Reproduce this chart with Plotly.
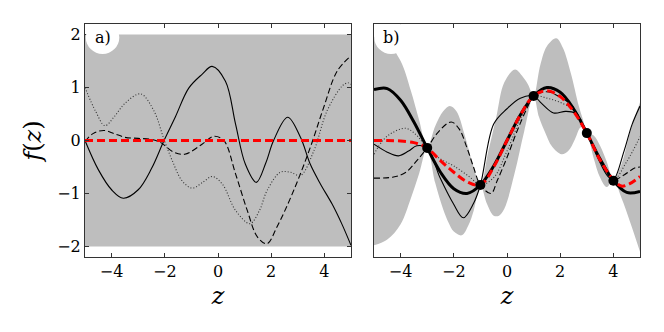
import plotly.graph_objects as go

# ---------------- data: panel a (prior) ----------------
band_a_z = [-5.0, 5.0]
band_a_upper = [2.0, 2.0]
band_a_lower = [-2.0, -2.0]
mean_a_z = [-5.0, 5.0]
mean_a_y = [0.0, 0.0]

sa_solid_z = [-5.0, -4.5, -4.0, -3.56, -3.0, -2.5, -2.03, -1.6, -1.1, -0.6, -0.22, 0.28, 0.66, 1.03, 1.44, 1.8, 2.09, 2.62, 3.1, 3.47, 3.85, 4.29, 4.65, 5.0]
sa_solid_y = [0.0, -0.55, -0.93, -1.09, -0.93, -0.53, 0.0, 0.45, 0.99, 1.25, 1.40, 1.12, 0.31, -0.45, -0.79, -0.42, 0.0, 0.44, 0.06, -0.45, -0.82, -1.2, -1.57, -1.98]

sa_dash_z = [-5.0, -4.7, -4.3, -3.9, -3.5, -3.0, -2.5, -2.15, -1.7, -1.25, -0.6, -0.16, 0.22, 0.66, 1.1, 1.48, 1.84, 2.22, 2.84, 3.47, 3.97, 4.48, 5.0]
sa_dash_y = [-0.02, 0.13, 0.19, 0.13, 0.06, 0.04, 0.02, -0.04, -0.21, -0.26, -0.07, 0.08, 0.0, -0.63, -1.32, -1.82, -1.95, -1.63, -0.95, -0.13, 0.62, 1.31, 1.6]

sa_dot_z = [-5.0, -4.6, -4.25, -3.9, -3.5, -2.91, -2.41, -2.03, -1.72, -1.35, -0.97, -0.55, -0.22, 0.16, 0.66, 1.2, 1.56, 1.84, 2.34, 2.72, 3.1, 3.6, 4.1, 4.67, 4.88, 5.0]
sa_dot_y = [1.0, 0.55, 0.28, 0.45, 0.7, 0.88, 0.56, 0.02, -0.38, -0.76, -0.9, -0.78, -0.68, -0.82, -1.32, -1.57, -1.32, -0.95, -0.6, -0.6, -0.66, -0.2, 0.56, 1.03, 1.09, 1.06]

# ---------------- data: panel b (posterior) ----------------
ub_z = [-5.0, -4.5, -4.0, -3.62, -3.3, -3.0, -2.7, -2.4, -2.15, -1.9, -1.6, -1.3, -1.0, -0.7, -0.4, -0.1, 0.3, 0.6, 0.8, 1.0, 1.25, 1.5, 1.85, 2.1, 2.4, 2.7, 2.85, 3.0, 3.25, 3.5, 3.75, 4.0, 4.3, 4.65, 5.0]
ub_y = [1.96, 1.85, 1.5, 0.95, 0.38, -0.14, 0.27, 0.55, 0.65, 0.55, 0.12, -0.42, -0.84, -0.2, 0.45, 1.1, 1.34, 1.2, 1.05, 0.84, 1.42, 1.78, 1.93, 1.75, 1.27, 0.65, 0.4, 0.14, 0.1, -0.1, -0.4, -0.74, -0.45, 0.2, 0.72]

lb_z = [-5.0, -4.5, -4.0, -3.62, -3.3, -3.0, -2.7, -2.4, -2.2, -2.0, -1.7, -1.45, -1.25, -1.0, -0.75, -0.5, -0.3, -0.1, 0.28, 0.65, 1.0, 1.2, 1.41, 1.7, 2.05, 2.3, 2.55, 2.78, 3.0, 3.25, 3.5, 3.75, 4.0, 4.3, 4.65, 5.0]
lb_y = [-1.98, -1.87, -1.58, -1.1, -0.62, -0.14, -0.8, -1.3, -1.55, -1.72, -1.79, -1.6, -1.32, -0.84, -1.2, -1.42, -1.42, -1.29, -0.63, 0.18, 0.84, 0.45, 0.18, -0.12, -0.26, -0.2, 0.02, 0.25, 0.14, -0.32, -0.7, -0.88, -0.74, -1.08, -1.57, -2.1]

mb_z = [-5.0, -4.5, -4.0, -3.5, -3.25, -3.0, -2.5, -2.0, -1.5, -1.0, -0.5, 0.0, 0.5, 1.0, 1.5, 2.0, 2.5, 3.0, 3.5, 4.0, 4.3, 4.6, 5.0]
mb_y = [0.0, 0.0, -0.01, -0.04, -0.08, -0.14, -0.38, -0.6, -0.78, -0.84, -0.5, 0.0, 0.48, 0.84, 0.94, 0.83, 0.55, 0.14, -0.37, -0.74, -0.86, -0.82, -0.68]

true_z = [-5.0, -4.5, -4.0, -3.5, -3.0, -2.5, -2.0, -1.5, -1.0, -0.5, 0.0, 0.5, 1.0, 1.5, 2.0, 2.5, 3.0, 3.5, 4.0, 4.5, 5.0]
true_y = [0.96, 0.98, 0.76, 0.35, -0.14, -0.60, -0.91, -1.0, -0.84, -0.48, 0.0, 0.48, 0.84, 1.0, 0.91, 0.60, 0.14, -0.35, -0.76, -0.98, -0.96]

sb_solid_z = [-5.0, -4.5, -4.08, -3.7, -3.39, -3.0, -2.52, -2.02, -1.64, -1.26, -1.0, -0.5, 0.0, 0.5, 1.0, 1.3, 1.75, 2.2, 2.55, 2.8, 3.0, 3.5, 3.8, 4.0, 4.4, 4.7, 5.0]
sb_solid_y = [-0.07, -0.22, -0.29, -0.2, -0.1, -0.14, -0.7, -1.19, -1.46, -1.19, -0.84, 0.31, 0.6, 0.8, 0.84, 0.7, 0.52, 0.55, 0.52, 0.35, 0.14, -0.42, -0.68, -0.74, -0.2, 0.3, 0.65]

sb_dash_z = [-5.0, -4.27, -3.8, -3.39, -3.0, -2.6, -2.1, -1.8, -1.51, -1.26, -1.0, -0.6, -0.37, 0.0, 0.38, 0.76, 1.0, 1.5, 2.0, 2.4, 2.7, 3.0, 3.5, 4.0, 4.4, 4.8, 5.0]
sb_dash_y = [-0.71, -0.69, -0.6, -0.38, -0.14, 0.15, 0.35, 0.22, -0.13, -0.5, -0.84, -1.0, -0.76, -0.32, 0.18, 0.62, 0.84, 0.92, 0.82, 0.68, 0.45, 0.14, -0.38, -0.74, -0.65, -0.52, -0.5]

sb_dot_z = [-5.0, -4.67, -4.3, -3.8, -3.4, -3.0, -2.5, -2.0, -1.4, -1.0, -0.5, 0.0, 0.5, 1.0, 1.5, 2.0, 2.5, 2.8, 3.0, 3.5, 4.0, 4.5, 5.0]
sb_dot_y = [-0.26, 0.0, 0.15, 0.23, 0.1, -0.14, -0.35, -0.48, -0.69, -0.84, -0.7, -0.2, 0.4, 0.84, 0.8, 0.72, 0.58, 0.38, 0.14, -0.38, -0.74, -0.4, 0.07]

obs_z = [-3.0, -1.0, 1.0, 3.0, 4.0]
obs_y = [-0.14, -0.84, 0.84, 0.14, -0.76]

x_ticks = [-4, -2, 0, 2, 4]
x_ticktext = ["\u22124", "\u22122", "0", "2", "4"]
y_ticks = [-2, -1, 0, 1, 2]
y_ticktext = ["\u22122", "\u22121", "0", "1", "2"]

# ---------------- styling ----------------
GRAY = "#bebebe"
FONT = "DejaVu Serif"
SP = dict(shape="spline", smoothing=1.0)
W, H = 664, 332
OFF = 8  # page offset of the plot div


def xd(a, b):
    return [(a - OFF) / W, (b - OFF) / W]


def yd(top, bottom):
    return [1 - (bottom - OFF) / H, 1 - (top - OFF) / H]


fig = go.Figure()

# panel a
fig.add_trace(go.Scatter(x=band_a_z, y=band_a_lower, mode="lines", line=dict(width=0, color=GRAY),
                         xaxis="x", yaxis="y", showlegend=False, hoverinfo="skip"))
fig.add_trace(go.Scatter(x=band_a_z, y=band_a_upper, mode="lines", line=dict(width=0, color=GRAY),
                         fill="tonexty", fillcolor=GRAY, xaxis="x", yaxis="y", showlegend=False, hoverinfo="skip"))
fig.add_trace(go.Scatter(x=sa_solid_z, y=sa_solid_y, mode="lines", line=dict(color="black", width=1.1, **SP),
                         xaxis="x", yaxis="y", showlegend=False))
fig.add_trace(go.Scatter(x=sa_dash_z, y=sa_dash_y, mode="lines", line=dict(color="black", width=1.1, dash="6px,3px", **SP),
                         xaxis="x", yaxis="y", showlegend=False))
fig.add_trace(go.Scatter(x=sa_dot_z, y=sa_dot_y, mode="lines", line=dict(color="#333333", width=1.1, dash="1px,2px", **SP),
                         xaxis="x", yaxis="y", showlegend=False))
fig.add_trace(go.Scatter(x=mean_a_z, y=mean_a_y, mode="lines", line=dict(color="red", width=3, dash="8px,4px"),
                         xaxis="x", yaxis="y", showlegend=False))

# panel b
fig.add_trace(go.Scatter(x=lb_z, y=lb_y, mode="lines", line=dict(width=0, color=GRAY, **SP),
                         xaxis="x2", yaxis="y2", showlegend=False, hoverinfo="skip"))
fig.add_trace(go.Scatter(x=ub_z, y=ub_y, mode="lines", line=dict(width=0, color=GRAY, **SP),
                         fill="tonexty", fillcolor=GRAY, xaxis="x2", yaxis="y2", showlegend=False, hoverinfo="skip"))
fig.add_trace(go.Scatter(x=sb_solid_z, y=sb_solid_y, mode="lines", line=dict(color="black", width=1.1, **SP),
                         xaxis="x2", yaxis="y2", showlegend=False))
fig.add_trace(go.Scatter(x=sb_dash_z, y=sb_dash_y, mode="lines", line=dict(color="black", width=1.1, dash="6px,3px", **SP),
                         xaxis="x2", yaxis="y2", showlegend=False))
fig.add_trace(go.Scatter(x=sb_dot_z, y=sb_dot_y, mode="lines", line=dict(color="#333333", width=1.1, dash="1px,2px", **SP),
                         xaxis="x2", yaxis="y2", showlegend=False))
fig.add_trace(go.Scatter(x=true_z, y=true_y, mode="lines", line=dict(color="black", width=3, **SP),
                         xaxis="x2", yaxis="y2", showlegend=False))
fig.add_trace(go.Scatter(x=mb_z, y=mb_y, mode="lines", line=dict(color="red", width=3, dash="8px,4px", **SP),
                         xaxis="x2", yaxis="y2", showlegend=False))
fig.add_trace(go.Scatter(x=obs_z, y=obs_y, mode="markers", marker=dict(color="black", size=10),
                         xaxis="x2", yaxis="y2", showlegend=False))

axis_common = dict(range=[-5, 5], showgrid=False, zeroline=False, showline=True, linecolor="#333333",
                   linewidth=1, ticks="inside", ticklen=4, tickcolor="#333333", mirror="ticks",
                   tickvals=x_ticks, ticktext=x_ticktext, automargin=False,
                   tickfont=dict(family=FONT, size=16, color="black"))

fig.update_layout(
    width=W, height=H,
    margin=dict(l=0, r=0, t=0, b=0, autoexpand=False),
    paper_bgcolor="white", plot_bgcolor="white",
    font=dict(family=FONT),
    xaxis=dict(domain=xd(85, 351), anchor="y",
               title=dict(text="<i>z</i>", font=dict(family=FONT, size=24, color="black"), standoff=6),
               **axis_common),
    yaxis=dict(domain=yd(24, 257), anchor="x", range=[-2.2, 2.2], showgrid=False, zeroline=False,
               showline=True, linecolor="#333333", linewidth=1, ticks="inside", ticklen=4, tickcolor="#333333",
               mirror="ticks", tickvals=y_ticks, ticktext=y_ticktext, automargin=False,
               tickfont=dict(family=FONT, size=16, color="black"),
               title=dict(text="<i>f</i>(<i>z</i>)", font=dict(family=FONT, size=24, color="black"), standoff=8)),
    xaxis2=dict(domain=xd(374, 640), anchor="y2",
                title=dict(text="<i>z</i>", font=dict(family=FONT, size=24, color="black"), standoff=6),
                **axis_common),
    yaxis2=dict(domain=yd(24, 257), anchor="x2", range=[-2.2, 2.2], showgrid=False, zeroline=False,
                showline=True, linecolor="#333333", linewidth=1, ticks="", mirror=True, showticklabels=False,
                automargin=False),
)

# label circles
for xr, yr, cx, lab in [("x", "y", -4.34, "a)"), ("x2", "y2", -4.36, "b)")]:
    fig.add_shape(type="circle", xref=xr, yref=yr, x0=cx-0.63, x1=cx+0.63, y0=1.945-0.31, y1=1.945+0.31,
                  fillcolor="white", line=dict(width=0), layer="above")
    fig.add_annotation(x=cx, y=1.945, xref=xr, yref=yr, text=lab, showarrow=False,
                       font=dict(family=FONT, size=16, color="black"))

fig.write_html("out.html")
